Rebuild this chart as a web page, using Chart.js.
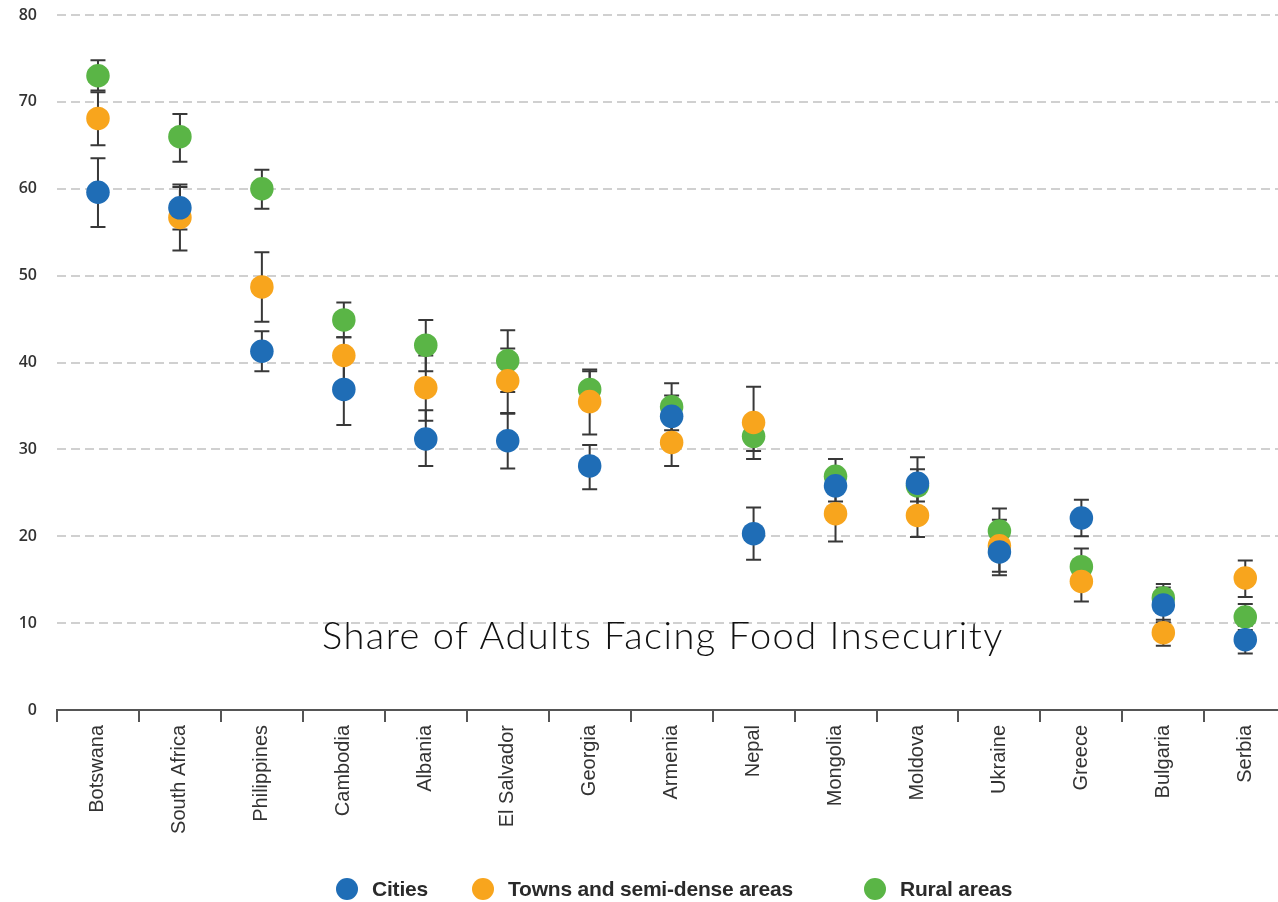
<!DOCTYPE html>
<html>
<head>
<meta charset="utf-8">
<script src="https://cdn.jsdelivr.net/npm/chart.js@4.4.1/dist/chart.umd.min.js"></script>
<style>
  html, body { margin: 0; padding: 0; background: #ffffff; overflow: hidden; }
  #wrap { position: relative; width: 1278px; height: 902px; overflow: hidden; }
  #box { position: absolute; left: 0; top: 0; width: 1298px; height: 902px; }
  #title {
    position: absolute; left: 322px; top: 611px; white-space: nowrap;
    font-family: Lato, "Open Sans", sans-serif; font-weight: 300; font-size: 38px;
    letter-spacing: 1.5px; color: #111111;
  }
  #legend { position: absolute; left: 0; top: 0; width: 1278px; height: 902px; pointer-events: none; }
  .item { position: absolute; top: 878px; display: flex; align-items: center; height: 22px; }
  .dot { width: 22px; height: 22px; border-radius: 50%; margin-right: 14px; flex: none; }
  .lbl { font-family: "Liberation Sans", Arial, sans-serif; font-weight: bold; font-size: 21px; color: #2a2a2a; letter-spacing: -0.2px; }
</style>
</head>
<body>
<div id="wrap">
  <div id="box"><canvas id="chart" width="1298" height="902"></canvas></div>
  <div id="title">Share of Adults Facing Food Insecurity</div>
  <div id="legend"></div>
</div>
<script>
// Countries, ordered by share of rural adults facing food insecurity
const countries = ['Botswana', 'South Africa', 'Philippines', 'Cambodia', 'Albania', 'El Salvador', 'Georgia',
  'Armenia', 'Nepal', 'Mongolia', 'Moldova', 'Ukraine', 'Greece', 'Bulgaria', 'Serbia'];

const seriesNames = ['Cities', 'Towns and semi-dense areas', 'Rural areas'];

// Share of adults (%) with confidence interval bounds
const cities      = [59.6, 57.8, 41.3, 36.9, 31.2, 31.0, 28.1, 33.8, 20.3, 25.8, 26.1, 18.2, 22.1, 12.1, 8.1];
const citiesLow   = [55.6, 55.3, 39.0, 32.8, 28.1, 27.8, 25.4, 31.5, 17.3, 24.0, 23.3, 15.5, 20.0, 10.1, 6.5];
const citiesHigh  = [63.5, 60.5, 43.6, 40.9, 34.5, 34.1, 30.5, 36.2, 23.3, 27.6, 29.1, 20.9, 24.2, 14.1, 9.7];

const towns       = [68.1, 56.7, 48.7, 40.8, 37.1, 37.9, 35.5, 30.8, 33.1, 22.6, 22.4, 18.9, 14.8, 8.9, 15.2];
const townsLow    = [65.0, 52.9, 44.7, 37.0, 33.3, 34.2, 31.7, 28.1, 28.9, 19.4, 19.9, 15.9, 12.5, 7.4, 13.0];
const townsHigh   = [71.1, 60.2, 52.7, 42.9, 40.8, 41.6, 39.0, 33.5, 37.2, 25.8, 24.9, 21.9, 17.1, 10.4, 17.2];

const rural       = [73.0, 66.0, 60.0, 44.9, 42.0, 40.2, 36.9, 34.9, 31.5, 26.9, 25.8, 20.6, 16.5, 12.9, 10.7];
const ruralLow    = [71.3, 63.1, 57.7, 42.9, 39.0, 36.6, 34.6, 32.2, 29.8, 25.0, 24.0, 18.0, 14.4, 11.2, 9.2];
const ruralHigh   = [74.8, 68.6, 62.2, 46.9, 44.9, 43.7, 39.2, 37.6, 33.2, 28.9, 27.7, 23.2, 18.6, 14.5, 12.2];

const yTicks = [0, 10, 20, 30, 40, 50, 60, 70, 80];

const colors = ['#1f6db6', '#f8a51d', '#5ab546'];

// Vertical whiskers with caps, drawn beneath the markers
const errorBars = {
  id: 'errorBars',
  beforeDatasetsDraw(chart) {
    const { ctx, scales: { x, y } } = chart;
    ctx.save();
    ctx.strokeStyle = '#383838';
    ctx.lineWidth = 2;
    chart.data.datasets.forEach(ds => {
      ds.low.forEach((lo, i) => {
        const hi = ds.high[i];
        const px = x.getPixelForValue(i);
        const y1 = y.getPixelForValue(lo);
        const y2 = y.getPixelForValue(hi);
        ctx.beginPath();
        ctx.moveTo(px, y1); ctx.lineTo(px, y2);
        ctx.moveTo(px - 7.5, y1); ctx.lineTo(px + 7.5, y1);
        ctx.moveTo(px - 7.5, y2); ctx.lineTo(px + 7.5, y2);
        ctx.stroke();
      });
    });
    ctx.restore();
  }
};

const values = [cities, towns, rural];
const lows = [citiesLow, townsLow, ruralLow];
const highs = [citiesHigh, townsHigh, ruralHigh];

const chart = new Chart(document.getElementById('chart'), {
  type: 'line',
  data: {
    labels: countries,
    datasets: seriesNames.map((name, k) => ({
      label: name,
      data: values[k],
      low: lows[k],
      high: highs[k],
      showLine: false,
      pointRadius: 11.75,
      pointHoverRadius: 11.75,
      pointBorderWidth: 0,
      pointBackgroundColor: colors[k],
      backgroundColor: colors[k],
      borderColor: colors[k]
    }))
  },
  options: {
    responsive: false,
    animation: false,
    layout: { padding: { top: 15, right: 0, bottom: 0, left: 0 } },
    plugins: {
      legend: { display: false },
      tooltip: { enabled: false },
      title: { display: false }
    },
    scales: {
      x: {
        type: 'category',
        offset: true,
        grid: { display: true, drawOnChartArea: false, offset: true, tickLength: 12, color: '#555555', lineWidth: 2 },
        border: { display: true, color: '#555555', width: 2 },
        ticks: {
          minRotation: 90, maxRotation: 90, padding: 3, autoSkip: false,
          color: '#333333',
          font: { family: '"Liberation Sans", Arial, sans-serif', size: 20 }
        },
        afterFit(scale) { scale.height = 192; }
      },
      y: {
        min: 0, max: 80,
        afterBuildTicks(scale) { scale.ticks = yTicks.map(v => ({ value: v })); },
        grid: {
          drawTicks: true, tickLength: 16, tickColor: 'rgba(0,0,0,0)',
          color: ctx => ctx.tick && ctx.tick.value === 0 ? 'rgba(0,0,0,0)' : '#d0d0d0', lineWidth: 2
        },
        border: { display: false, dash: [9, 5] },
        ticks: {
          padding: 4, color: '#333333',
          font: { family: '"Open Sans", sans-serif', size: 16, weight: '600' }
        },
        afterFit(scale) { scale.width = 57; }
      }
    }
  },
  plugins: [errorBars]
});

// Legend built from the chart's datasets
const legendLeft = [336, 472, 864];
const legend = document.getElementById('legend');
chart.data.datasets.forEach((ds, k) => {
  const item = document.createElement('div');
  item.className = 'item';
  item.style.left = legendLeft[k] + 'px';
  const dot = document.createElement('span');
  dot.className = 'dot';
  dot.style.background = ds.backgroundColor;
  const txt = document.createElement('span');
  txt.className = 'lbl';
  txt.textContent = ds.label;
  item.appendChild(dot); item.appendChild(txt);
  legend.appendChild(item);
});
</script>
</body>
</html>
